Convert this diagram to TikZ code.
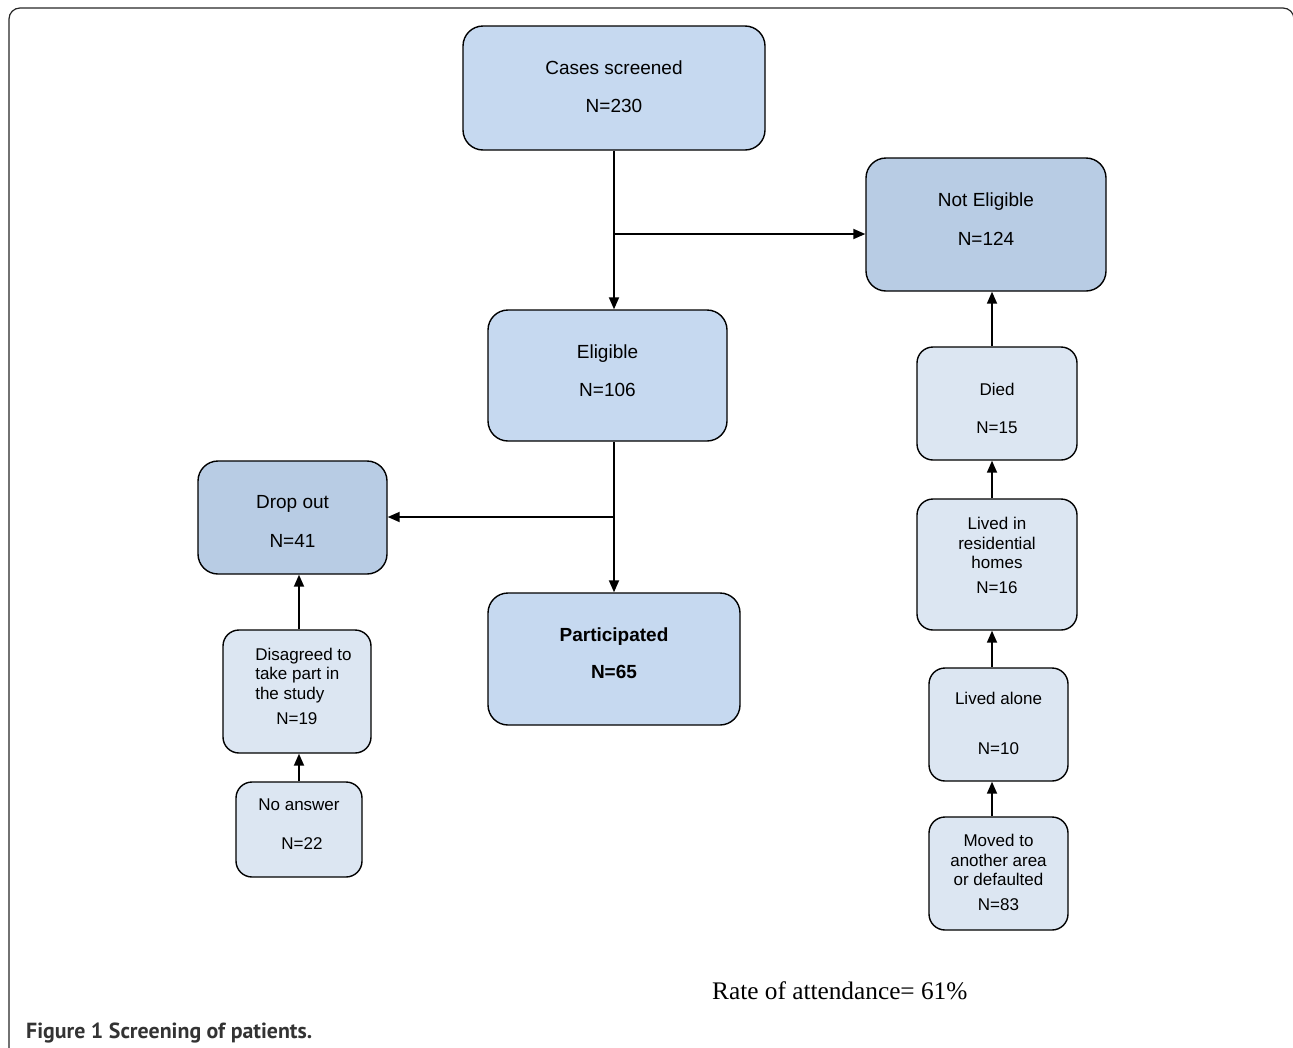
\documentclass[tikz,border=0pt]{standalone}
\usepackage{fontspec}
\setmainfont{Liberation Sans}
\newfontfamily\serifrm{Liberation Serif}
\newfontfamily\capfont{PT Sans}
\usetikzlibrary{arrows.meta}
\definecolor{boxA}{RGB}{198,217,240}
\definecolor{boxB}{RGB}{184,204,228}
\definecolor{boxC}{RGB}{220,230,242}
\begin{document}
\begin{tikzpicture}[x=1pt,y=-1pt,
  bigbox/.style={draw=black, line width=1.4pt, rounded corners=20pt, fill=boxA, inner sep=0pt},
  darkbox/.style={bigbox, fill=boxB},
  smallbox/.style={draw=black, line width=1.4pt, rounded corners=16pt, fill=boxC, inner sep=0pt},
  bigtxt/.style={font=\fontsize{19}{22}\selectfont, align=center, inner sep=0pt},
  smalltxt/.style={font=\fontsize{17}{19.5}\selectfont, align=center, inner sep=0pt},
  arr/.style={line width=1.8pt, -{Triangle[length=12pt,width=10pt]}}]
\useasboundingbox (0,0) rectangle (1293,1047);
% frame
\draw[line width=1.2pt, draw=black!85, rounded corners=11pt] (9,1060) -- (9,8) -- (1294,8) -- (1294,60);
% boxes
\node[bigbox, minimum width=302pt, minimum height=124pt] (cases) at (614,88) {};
\node[darkbox, minimum width=240pt, minimum height=133pt] (noteli) at (986,224.5) {};
\node[bigbox, minimum width=239pt, minimum height=131pt] (eli) at (607.5,375.5) {};
\node[darkbox, minimum width=189pt, minimum height=113pt] (drop) at (292.5,517.5) {};
\node[bigbox, minimum width=252pt, minimum height=132pt] (part) at (614,659) {};
\node[smallbox, minimum width=148pt, minimum height=123pt] (disag) at (297,691.5) {};
\node[smallbox, minimum width=126pt, minimum height=95pt] (noans) at (299,829.5) {};
\node[smallbox, minimum width=160pt, minimum height=113pt] (died) at (997,403.5) {};
\node[smallbox, minimum width=160pt, minimum height=131pt] (resid) at (997,564.5) {};
\node[smallbox, minimum width=139pt, minimum height=113pt] (alone) at (998.5,724.5) {};
\node[smallbox, minimum width=139pt, minimum height=113pt] (moved) at (998.5,873.5) {};
% box texts
\node[bigtxt] (casesT) at (614,87) {Cases screened\\[16pt]N=230};
\node[bigtxt] (noteliT) at (986,219.5) {Not Eligible\\[17pt]N=124};
\node[bigtxt] (eliT) at (607.5,370.5) {Eligible\\[16pt]N=106};
\node[bigtxt] (dropT) at (292.5,521.5) {Drop out\\[17pt]N=41};
\node[bigtxt, font=\fontsize{19}{22}\selectfont\bfseries] (partT) at (614,653) {Participated\\[15pt]N=65};
\node[smalltxt] (disagT) at (297,688.5)
  {\hspace*{13pt}\begin{tabular}{@{}l@{}}Disagreed to\\take part in\\the study\\[5.5pt]\hspace*{21pt}N=19\end{tabular}};
\node[smalltxt] (noansT) at (299,826.5)
  {\begin{tabular}{@{}l@{}}No answer\\[19.5pt]\hspace*{23pt}N=22\end{tabular}};
\node[smalltxt] (diedT) at (997,408.5) {Died\\[18.5pt]N=15};
\node[smalltxt] (residT) at (997,555.5) {Lived in\\residential\\homes\\[5.5pt]N=16};
\node[smalltxt] (aloneT) at (998.5,723.5) {Lived alone\\[30.5pt]N=10};
\node[smalltxt] (movedT) at (998.5,872.5) {Moved to\\another area\\or defaulted\\[5.5pt]N=83};
% connectors
\coordinate (j1) at (614,234);
\coordinate (j2) at (614,517);
\coordinate (colR) at (992,0);
\coordinate (colL) at (299,0);
\draw[arr] (cases.south) -- (cases.south |- eli.north);
\draw[arr] (j1) -- (j1 -| noteli.west);
\draw[arr] (eli.south -| part.north) -- (part.north);
\draw[arr] (j2) -- (j2 -| drop.east);
\draw[arr] (died.north -| colR) -- (noteli.south -| colR);
\draw[arr] (resid.north -| colR) -- (died.south -| colR);
\draw[arr] (alone.north -| colR) -- (resid.south -| colR);
\draw[arr] (moved.north -| colR) -- (alone.south -| colR);
\draw[arr] (disag.north -| colL) -- (drop.south -| colL);
\draw[arr] (noans.north -| colL) -- (disag.south -| colL);
% texts
\node[anchor=base west, inner sep=0pt, font=\serifrm\fontsize{25.3}{29}\selectfont] (rate) at (712,999) {Rate of attendance= 61\%};
\node[anchor=base west, inner sep=0pt, text=black!80, font=\capfont\bfseries\fontsize{20}{24}\selectfont] (cap) at (26,1038) {\resizebox{286pt}{!}{Figure 1 Screening of patients.}};
\end{tikzpicture}
\end{document}
